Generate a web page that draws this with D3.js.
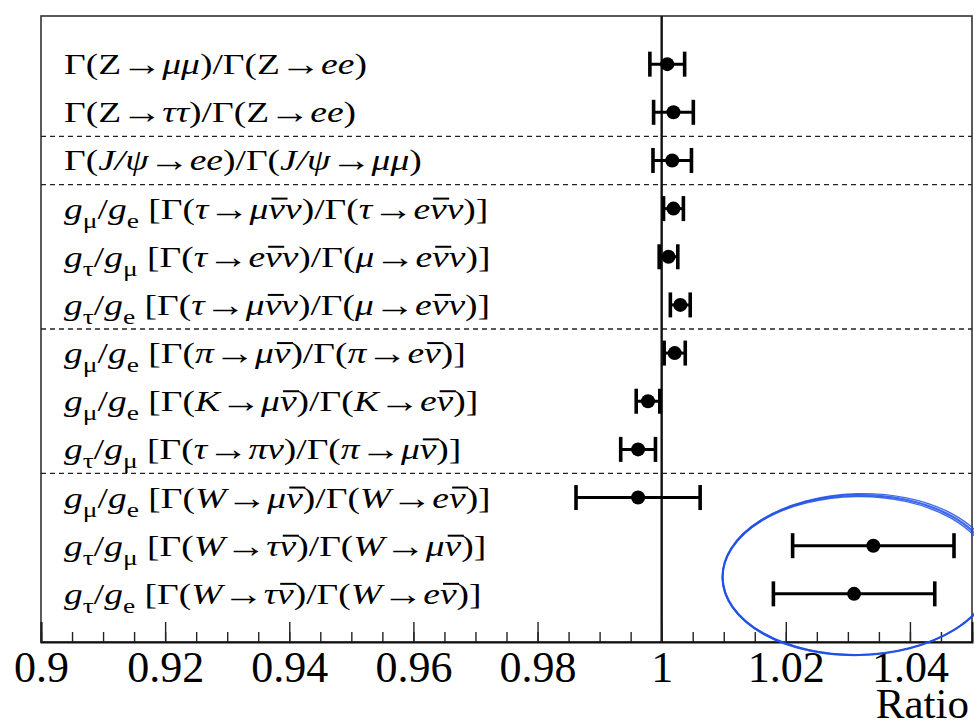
<!DOCTYPE html>
<html lang="en">
<head>
<meta charset="utf-8">
<script src="https://d3js.org/d3.v7.min.js"></script>
<style>
  body { margin: 0; background: #fff; }
  text { font-family: "Liberation Serif", "Times New Roman", serif; }
</style>
</head>
<body>
<div id="chart"></div>
<script>
// label markup: $ toggles italic, _{..} subscript, ~{..} overlined (italic)
const labels = [
  "Γ(Z→$μμ$)/Γ(Z→$ee$)",
  "Γ(Z→$ττ$)/Γ(Z→$ee$)",
  "Γ($J/ψ$→$ee$)/Γ($J/ψ$→$μμ$)",
  "$g$_{μ}/$g$_{e} [Γ($τ$→$μ$~{ν}$ν$)/Γ($τ$→$e$~{ν}$ν$)]",
  "$g$_{τ}/$g$_{μ} [Γ($τ$→$e$~{ν}$ν$)/Γ($μ$→$e$~{ν}$ν$)]",
  "$g$_{τ}/$g$_{e} [Γ($τ$→$μ$~{ν}$ν$)/Γ($μ$→$e$~{ν}$ν$)]",
  "$g$_{μ}/$g$_{e} [Γ($π$→$μ$~{ν})/Γ($π$→$e$~{ν})]",
  "$g$_{μ}/$g$_{e} [Γ($K$→$μ$~{ν})/Γ($K$→$e$~{ν})]",
  "$g$_{τ}/$g$_{μ} [Γ($τ$→$πν$)/Γ($π$→$μ$~{ν})]",
  "$g$_{μ}/$g$_{e} [Γ($W$→$μ$~{ν})/Γ($W$→$e$~{ν})]",
  "$g$_{τ}/$g$_{μ} [Γ($W$→$τ$~{ν})/Γ($W$→$μ$~{ν})]",
  "$g$_{τ}/$g$_{e} [Γ($W$→$τ$~{ν})/Γ($W$→$e$~{ν})]"
];
const values = [1.0009, 1.0019, 1.0017, 1.0019, 1.0011, 1.0030, 1.0021, 0.9978, 0.9962, 0.9962, 1.0341, 1.0310];
const errors = [0.0028, 0.0032, 0.0031, 0.0016, 0.0015, 0.0016, 0.0017, 0.0019, 0.0028, 0.0100, 0.0130, 0.0130];
const separators = [2.5, 3.5, 6.5, 9.5];
const majorTicks = [0.90, 0.92, 0.94, 0.96, 0.98, 1.00, 1.02, 1.04];
const tickLabels = ["0.9", "0.92", "0.94", "0.96", "0.98", "1", "1.02", "1.04"];
const minorTicks = d3.range(0, 31).map(i => 0.9 + i * 0.005);
// hand-drawn circle around the W results: centre (ratio, row), radii (ratio, rows)
const circleNote = { cx: 1.0316, cy: 11.61, rx: 0.0218, ry: 1.66 };

const W = 974, H = 728;
const mLeft = 41, mRight = 972, mTop = 16, mBottom = 642;
const serif = "'Liberation Serif', 'Times New Roman', serif";

const svg = d3.select("#chart").append("svg")
  .attr("width", W).attr("height", H);

const x = d3.scaleLinear().domain([0.9, 1.05]).range([mLeft, mRight]);
const y = d3.scaleLinear().domain([0, 13]).range([mTop, mBottom]);

// frame
svg.append("rect")
  .attr("x", mLeft).attr("y", mTop)
  .attr("width", mRight - mLeft).attr("height", mBottom - mTop)
  .attr("fill", "none").attr("stroke", "#333").attr("stroke-width", 1.6);

// dashed separators
svg.selectAll(".sep").data(separators).enter().append("line")
  .attr("x1", mLeft).attr("x2", mRight)
  .attr("y1", d => y(d)).attr("y2", d => y(d))
  .attr("stroke", "#222").attr("stroke-width", 1.3)
  .attr("stroke-dasharray", "5,4");

// reference line at 1
svg.append("line")
  .attr("x1", x(1)).attr("x2", x(1))
  .attr("y1", mTop).attr("y2", mBottom)
  .attr("stroke", "#111").attr("stroke-width", 2.4);

// axis: minor + major ticks pointing inward
const minorAxis = d3.axisBottom(x).tickValues(minorTicks).tickSize(-10).tickFormat("");
const majorAxis = d3.axisBottom(x).tickValues(majorTicks).tickSize(-20).tickPadding(9)
  .tickFormat((d, i) => tickLabels[i]);

const gMinor = svg.append("g").attr("transform", `translate(0,${mBottom})`).call(minorAxis);
gMinor.select(".domain").remove();
gMinor.selectAll("line").attr("stroke", "#222").attr("stroke-width", 1.4);

const gMajor = svg.append("g").attr("transform", `translate(0,${mBottom})`).call(majorAxis);
gMajor.attr("font-family", serif);
gMajor.select(".domain").attr("stroke", "#111").attr("stroke-width", 2);
gMajor.selectAll("line").attr("stroke", "#222").attr("stroke-width", 1.4);
gMajor.selectAll("text")
  .style("font-family", serif)
  .attr("font-size", 44).attr("fill", "#000");

svg.append("text")
  .attr("x", 969).attr("y", 718)
  .attr("text-anchor", "end")
  .style("font-family", serif)
  .attr("font-size", 43)
  .text("Ratio");

// labels (glyphs widened to match the original's wide Times/Symbol setting)
const fs = 30, subFs = 22, subDy = 9, stretch = 1.25;
labels.forEach((lab, i) => {
  const base = y(i + 1) + 10;
  const g = svg.append("g").attr("transform", `translate(64,0) scale(${stretch},1)`);
  const t = g.append("text").attr("x", 0).attr("y", base)
    .style("font-family", serif).attr("font-size", fs);
  const tokens = lab.match(/_\{[^}]*\}|~\{[^}]*\}|\$|→|[^$_~→]+/g);
  let italic = false;
  tokens.forEach(tok => {
    if (tok === "$") { italic = !italic; return; }
    if (tok.startsWith("_{")) {
      t.append("tspan").attr("y", base + subDy).attr("font-size", subFs)
        .text(tok.slice(2, -1));
    } else if (tok.startsWith("~{")) {
      t.append("tspan").attr("y", base).attr("font-style", "italic")
        .attr("class", "bar").text(tok.slice(2, -1));
    } else if (tok === "→") {
      t.append("tspan").attr("y", base + 1).attr("font-size", 33)
        .attr("font-style", "normal").text(tok);
    } else {
      t.append("tspan").attr("y", base)
        .attr("font-style", italic ? "italic" : "normal").text(tok);
    }
  });
  // overlines over the antineutrinos
  t.selectAll("tspan.bar").each(function () {
    const p = this.getStartPositionOfChar(0);
    const w = this.getComputedTextLength();
    g.append("line")
      .attr("x1", p.x + 2.5).attr("x2", p.x + w + 2)
      .attr("y1", base - 20).attr("y2", base - 20)
      .attr("stroke", "#000").attr("stroke-width", 2);
  });
});

// error bars
const rows = values.map((v, i) => ({ v: v, e: errors[i], r: i + 1 }));
const capH = 12.5;

svg.selectAll(".eb").data(rows).enter().append("line")
  .attr("x1", d => x(d.v - d.e)).attr("x2", d => x(d.v + d.e))
  .attr("y1", d => y(d.r)).attr("y2", d => y(d.r))
  .attr("stroke", "#000").attr("stroke-width", 3);

svg.selectAll(".capl").data(rows).enter().append("line")
  .attr("x1", d => x(d.v - d.e)).attr("x2", d => x(d.v - d.e))
  .attr("y1", d => y(d.r) - capH).attr("y2", d => y(d.r) + capH)
  .attr("stroke", "#000").attr("stroke-width", 3.6);

svg.selectAll(".capr").data(rows).enter().append("line")
  .attr("x1", d => x(d.v + d.e)).attr("x2", d => x(d.v + d.e))
  .attr("y1", d => y(d.r) - capH).attr("y2", d => y(d.r) + capH)
  .attr("stroke", "#000").attr("stroke-width", 3.6);

svg.selectAll(".pt").data(rows).enter().append("circle")
  .attr("cx", d => x(d.v)).attr("cy", d => y(d.r))
  .attr("r", 7).attr("fill", "#000");

// hand-drawn blue ellipse (a few slightly offset strokes)
const ecx = x(circleNote.cx), ecy = y(circleNote.cy);
const erx = x(circleNote.cx + circleNote.rx) - ecx;
const ery = y(circleNote.cy + circleNote.ry) - ecy;
[[0, 0, 0, 0, -1.2, 2.2], [0.8, -0.6, 1, 0.8, -1.8, 1.4], [-0.6, 0.6, -1, -0.8, -0.8, 1.4]].forEach(o => {
  svg.append("ellipse")
    .attr("cx", ecx + o[0]).attr("cy", ecy + o[1])
    .attr("rx", erx + o[2]).attr("ry", ery + o[3])
    .attr("transform", `rotate(${o[4]},${ecx},${ecy})`)
    .attr("fill", "none").attr("stroke", "#1f4fe6")
    .attr("stroke-width", o[5]).attr("stroke-opacity", 0.85);
});
</script>
</body>
</html>
